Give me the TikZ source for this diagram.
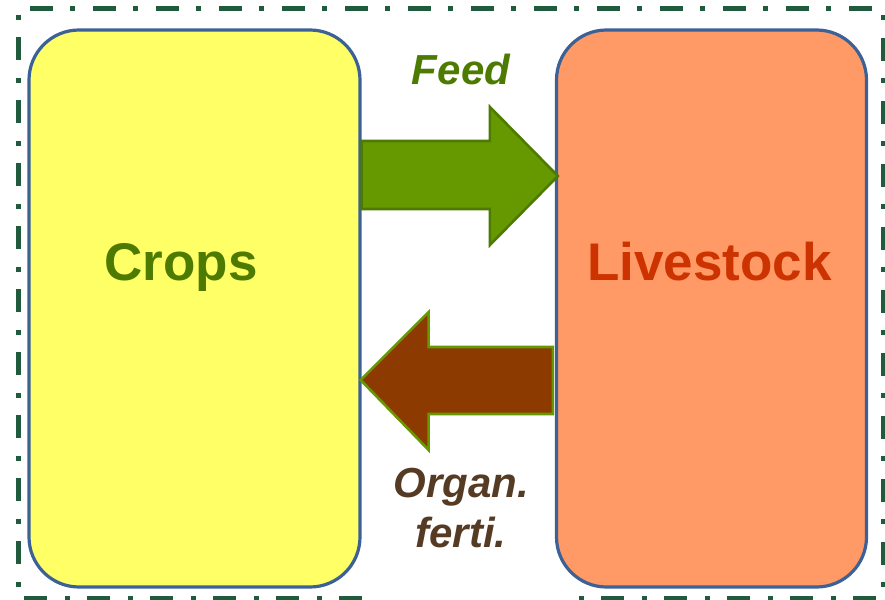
\documentclass[tikz,border=0pt]{standalone}
\usepackage{fontspec}
\setmainfont{Liberation Sans}
\usetikzlibrary{calc,positioning}
\definecolor{cropfill}{HTML}{FFFF66}
\definecolor{livefill}{HTML}{FF9966}
\definecolor{boxline}{HTML}{3B6196}
\definecolor{frameline}{HTML}{1F5B3C}
\definecolor{feedfill}{HTML}{669900}
\definecolor{feeddark}{HTML}{4D7A00}
\definecolor{manure}{HTML}{8C3A00}
\definecolor{livetext}{HTML}{CC3300}
\definecolor{organtext}{HTML}{553B23}

\begin{document}
\begin{tikzpicture}[x=1pt,y=-1pt,
  unitbox/.style={draw=boxline,line width=3.2pt,rounded corners=50pt,
    minimum width=331pt,minimum height=557pt,inner sep=0pt},
  bigname/.style={anchor=base,font=\fontsize{53}{60}\selectfont\bfseries},
  flowname/.style={anchor=base,align=center,
    font=\fontsize{42}{50}\selectfont\bfseries\itshape},
  feedarrow/.style={fill=feedfill,draw=feeddark,line width=2.6pt,line join=miter},
  dungarrow/.style={fill=manure,draw=feedfill,line width=2.6pt,line join=miter}]
  \useasboundingbox (0,0) rectangle (885,599);
  % outer frame, open at the bottom under the labels
  \draw[frameline,line width=5pt,dash pattern=on 23pt off 17pt on 5pt off 18pt]
    (362,598) -- (18,598) -- (18,9) -- (883,9) -- (883,598) -- (570,598);

  \node[unitbox,fill=cropfill] (crops) at (194.5,308.5) {};
  \node[unitbox,fill=livefill,minimum width=310pt] (livestock) at (711.5,308.5) {};
  \node[bigname,text=feeddark] (cropsname) at (181,280) {Crops};
  \node[bigname,text=livetext] (livename) at (709.5,280) {Livestock};

  % feed: crops -> livestock
  \coordinate (feedtail) at (crops.east |- 0,176);
  \coordinate (feedtip) at ([xshift=3pt]livestock.west |- 0,176);
  \draw[feedarrow] ([yshift=35pt]feedtail) -- ([xshift=-68pt,yshift=35pt]feedtip)
    -- ([xshift=-68pt,yshift=69pt]feedtip) -- (feedtip)
    -- ([xshift=-68pt,yshift=-69pt]feedtip) -- ([xshift=-68pt,yshift=-33pt]feedtip)
    -- ([yshift=-33pt]feedtail) -- cycle;
  \node[flowname,text=feeddark] (feedname) at (461,85) {Feed};

  % organic fertiliser: livestock -> crops
  \coordinate (dungtail) at ([xshift=-2pt]livestock.west |- 0,380);
  \coordinate (dungtip) at ([xshift=-1pt]crops.east |- 0,380);
  \draw[dungarrow] ([yshift=33pt]dungtail) -- ([xshift=68pt,yshift=33pt]dungtip)
    -- ([xshift=68pt,yshift=68pt]dungtip) -- (dungtip)
    -- ([xshift=68pt,yshift=-70pt]dungtip) -- ([xshift=68pt,yshift=-34pt]dungtip)
    -- ([yshift=-34pt]dungtail) -- cycle;
  \node[flowname,text=organtext] (dungname) at (461,547) {Organ.\\ferti.};
\end{tikzpicture}
\end{document}
